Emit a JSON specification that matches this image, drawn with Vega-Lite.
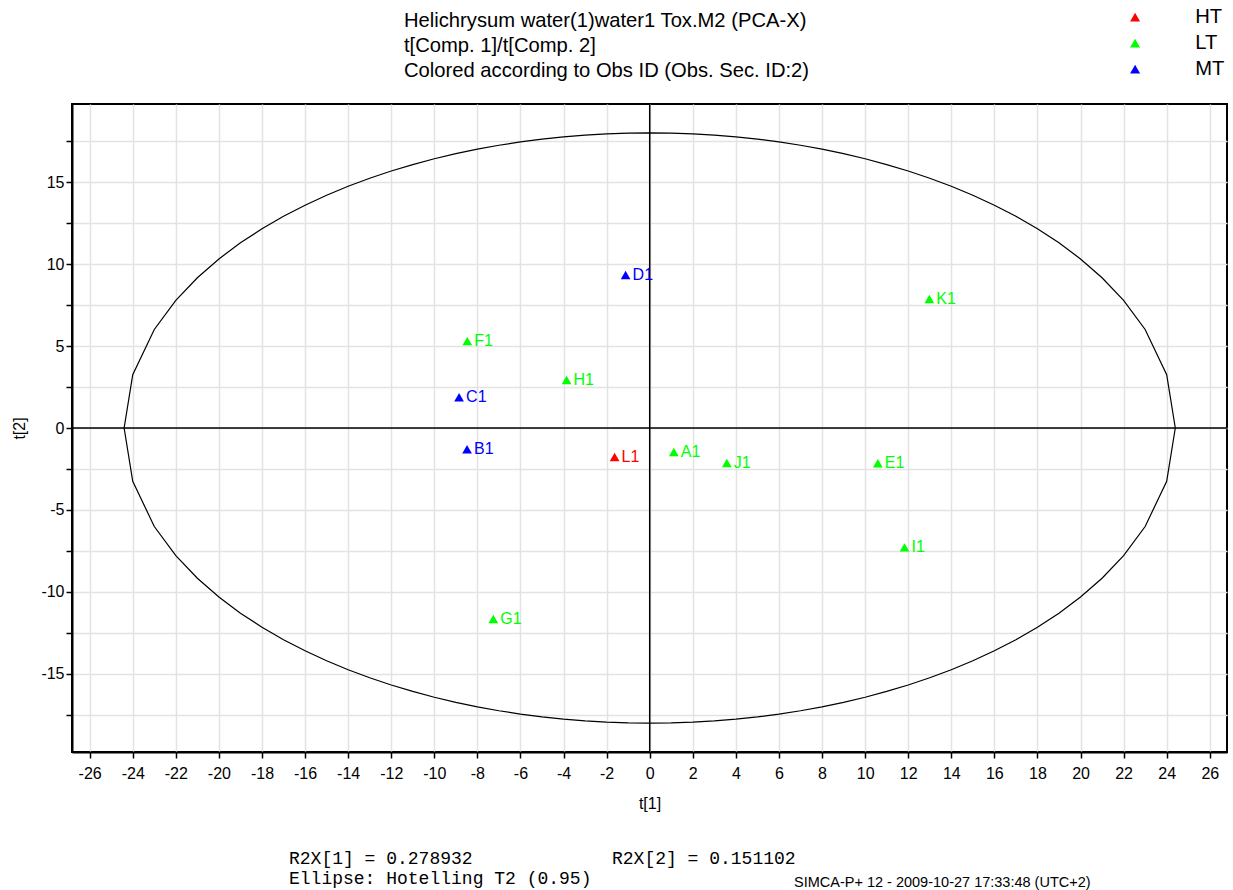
{
  "$schema": "https://vega.github.io/schema/vega-lite/v6.json",
  "width": 1155,
  "height": 648,
  "autosize": {"type": "none"},
  "padding": {"left": 72, "top": 104, "right": 6, "bottom": 138},
  "background": "white",
  "config": {"view": {"stroke": "black", "strokeWidth": 2}, "font": "Liberation Sans"},
  "title": {
    "text": ["Helichrysum water(1)water1 Tox.M2 (PCA-X)", "t[Comp. 1]/t[Comp. 2]", "Colored according to Obs ID (Obs. Sec. ID:2)"],
    "anchor": "start",
    "frame": "group",
    "dx": 332,
    "fontSize": 20.2,
    "fontWeight": "normal",
    "font": "Liberation Sans",
    "lineHeight": 25,
    "offset": -74,
    "color": "black"
  },
  "datasets": {
    "scores": [
      {"id": "D1", "grp": "MT", "x": -1.12, "y": 9.33},
      {"id": "K1", "grp": "LT", "x": 12.98, "y": 7.87},
      {"id": "F1", "grp": "LT", "x": -8.47, "y": 5.3},
      {"id": "H1", "grp": "LT", "x": -3.86, "y": 2.93},
      {"id": "C1", "grp": "MT", "x": -8.85, "y": 1.87},
      {"id": "B1", "grp": "MT", "x": -8.48, "y": -1.3},
      {"id": "L1", "grp": "HT", "x": -1.63, "y": -1.77},
      {"id": "A1", "grp": "LT", "x": 1.12, "y": -1.46},
      {"id": "J1", "grp": "LT", "x": 3.58, "y": -2.13},
      {"id": "E1", "grp": "LT", "x": 10.59, "y": -2.15},
      {"id": "I1", "grp": "LT", "x": 11.83, "y": -7.28},
      {"id": "G1", "grp": "LT", "x": -7.26, "y": -11.65}
    ],
    "ellipse": [
      {"i": 0, "x": 24.4, "y": 0},
      {"i": 1, "x": 24, "y": 3.246},
      {"i": 2, "x": 23, "y": 6.009},
      {"i": 3, "x": 22, "y": 7.785},
      {"i": 4, "x": 21, "y": 9.165},
      {"i": 5, "x": 20, "y": 10.311},
      {"i": 6, "x": 19, "y": 11.293},
      {"i": 7, "x": 18, "y": 12.152},
      {"i": 8, "x": 17, "y": 12.912},
      {"i": 9, "x": 16, "y": 13.59},
      {"i": 10, "x": 15, "y": 14.197},
      {"i": 11, "x": 14, "y": 14.742},
      {"i": 12, "x": 13, "y": 15.232},
      {"i": 13, "x": 12, "y": 15.673},
      {"i": 14, "x": 11, "y": 16.067},
      {"i": 15, "x": 10, "y": 16.419},
      {"i": 16, "x": 9, "y": 16.731},
      {"i": 17, "x": 8, "y": 17.005},
      {"i": 18, "x": 7, "y": 17.243},
      {"i": 19, "x": 6, "y": 17.447},
      {"i": 20, "x": 5, "y": 17.618},
      {"i": 21, "x": 4, "y": 17.756},
      {"i": 22, "x": 3, "y": 17.863},
      {"i": 23, "x": 2, "y": 17.939},
      {"i": 24, "x": 1, "y": 17.985},
      {"i": 25, "x": 0, "y": 18},
      {"i": 26, "x": -1, "y": 17.985},
      {"i": 27, "x": -2, "y": 17.939},
      {"i": 28, "x": -3, "y": 17.863},
      {"i": 29, "x": -4, "y": 17.756},
      {"i": 30, "x": -5, "y": 17.618},
      {"i": 31, "x": -6, "y": 17.447},
      {"i": 32, "x": -7, "y": 17.243},
      {"i": 33, "x": -8, "y": 17.005},
      {"i": 34, "x": -9, "y": 16.731},
      {"i": 35, "x": -10, "y": 16.419},
      {"i": 36, "x": -11, "y": 16.067},
      {"i": 37, "x": -12, "y": 15.673},
      {"i": 38, "x": -13, "y": 15.232},
      {"i": 39, "x": -14, "y": 14.742},
      {"i": 40, "x": -15, "y": 14.197},
      {"i": 41, "x": -16, "y": 13.59},
      {"i": 42, "x": -17, "y": 12.912},
      {"i": 43, "x": -18, "y": 12.152},
      {"i": 44, "x": -19, "y": 11.293},
      {"i": 45, "x": -20, "y": 10.311},
      {"i": 46, "x": -21, "y": 9.165},
      {"i": 47, "x": -22, "y": 7.785},
      {"i": 48, "x": -23, "y": 6.009},
      {"i": 49, "x": -24, "y": 3.246},
      {"i": 50, "x": -24.4, "y": 0},
      {"i": 51, "x": -24, "y": -3.246},
      {"i": 52, "x": -23, "y": -6.009},
      {"i": 53, "x": -22, "y": -7.785},
      {"i": 54, "x": -21, "y": -9.165},
      {"i": 55, "x": -20, "y": -10.311},
      {"i": 56, "x": -19, "y": -11.293},
      {"i": 57, "x": -18, "y": -12.152},
      {"i": 58, "x": -17, "y": -12.912},
      {"i": 59, "x": -16, "y": -13.59},
      {"i": 60, "x": -15, "y": -14.197},
      {"i": 61, "x": -14, "y": -14.742},
      {"i": 62, "x": -13, "y": -15.232},
      {"i": 63, "x": -12, "y": -15.673},
      {"i": 64, "x": -11, "y": -16.067},
      {"i": 65, "x": -10, "y": -16.419},
      {"i": 66, "x": -9, "y": -16.731},
      {"i": 67, "x": -8, "y": -17.005},
      {"i": 68, "x": -7, "y": -17.243},
      {"i": 69, "x": -6, "y": -17.447},
      {"i": 70, "x": -5, "y": -17.618},
      {"i": 71, "x": -4, "y": -17.756},
      {"i": 72, "x": -3, "y": -17.863},
      {"i": 73, "x": -2, "y": -17.939},
      {"i": 74, "x": -1, "y": -17.985},
      {"i": 75, "x": 0, "y": -18},
      {"i": 76, "x": 1, "y": -17.985},
      {"i": 77, "x": 2, "y": -17.939},
      {"i": 78, "x": 3, "y": -17.863},
      {"i": 79, "x": 4, "y": -17.756},
      {"i": 80, "x": 5, "y": -17.618},
      {"i": 81, "x": 6, "y": -17.447},
      {"i": 82, "x": 7, "y": -17.243},
      {"i": 83, "x": 8, "y": -17.005},
      {"i": 84, "x": 9, "y": -16.731},
      {"i": 85, "x": 10, "y": -16.419},
      {"i": 86, "x": 11, "y": -16.067},
      {"i": 87, "x": 12, "y": -15.673},
      {"i": 88, "x": 13, "y": -15.232},
      {"i": 89, "x": 14, "y": -14.742},
      {"i": 90, "x": 15, "y": -14.197},
      {"i": 91, "x": 16, "y": -13.59},
      {"i": 92, "x": 17, "y": -12.912},
      {"i": 93, "x": 18, "y": -12.152},
      {"i": 94, "x": 19, "y": -11.293},
      {"i": 95, "x": 20, "y": -10.311},
      {"i": 96, "x": 21, "y": -9.165},
      {"i": 97, "x": 22, "y": -7.785},
      {"i": 98, "x": 23, "y": -6.009},
      {"i": 99, "x": 24, "y": -3.246},
      {"i": 100, "x": 24.4, "y": 0}
    ]
  },
  "layer": [
    {
      "data": {"name": "ellipse"},
      "mark": {"type": "line", "color": "black", "strokeWidth": 1.2},
      "encoding": {
        "x": {
          "field": "x", "type": "quantitative",
          "scale": {"domain": [-26.82, 26.8], "nice": false, "zero": false},
          "axis": {
            "title": "t[1]",
            "values": [-26,-25,-24,-23,-22,-21,-20,-19,-18,-17,-16,-15,-14,-13,-12,-11,-10,-9,-8,-7,-6,-5,-4,-3,-2,-1,0,1,2,3,4,5,6,7,8,9,10,11,12,13,14,15,16,17,18,19,20,21,22,23,24,25,26],
            "labelExpr": "datum.value % 2 === 0 ? toString(datum.value) : ''",
            "grid": true, "gridColor": "#e3e3e3", "gridWidth": 1.5,
            "domainColor": "black", "domainWidth": 2,
            "tickColor": "black", "tickWidth": 1.5, "tickSize": 6,
            "labelFontSize": 16, "labelColor": "black", "labelPadding": 7,
            "labelFlush": false, "labelOverlap": false,
            "titleFontSize": 16, "titleFontWeight": "normal", "titleColor": "black", "titlePadding": 14
          }
        },
        "y": {
          "field": "y", "type": "quantitative",
          "scale": {"domain": [-19.76, 19.76], "nice": false, "zero": false},
          "axis": {
            "title": "t[2]",
            "values": [-17.5,-15,-12.5,-10,-7.5,-5,-2.5,0,2.5,5,7.5,10,12.5,15,17.5],
            "labelExpr": "datum.value % 5 === 0 ? toString(datum.value) : ''",
            "grid": true, "gridColor": "#e3e3e3", "gridWidth": 1.5,
            "domainColor": "black", "domainWidth": 2,
            "tickColor": "black", "tickWidth": 1.5, "tickSize": 6,
            "labelFontSize": 16, "labelColor": "black", "labelPadding": 2,
            "labelFlush": false, "labelOverlap": false,
            "titleFontSize": 16, "titleFontWeight": "normal", "titleColor": "black", "titlePadding": 13
          }
        },
        "order": {"field": "i", "type": "quantitative"}
      }
    },
    {
      "data": {"values": [{}]},
      "mark": {"type": "rule", "color": "black", "strokeWidth": 1.5},
      "encoding": {"x": {"datum": 0, "type": "quantitative"}}
    },
    {
      "data": {"values": [{}]},
      "mark": {"type": "rule", "color": "black", "strokeWidth": 1.5},
      "encoding": {"y": {"datum": 0, "type": "quantitative"}}
    },
    {
      "data": {"name": "scores"},
      "mark": {"type": "point", "shape": "triangle-up", "filled": true, "size": 95, "opacity": 1},
      "encoding": {
        "x": {"field": "x", "type": "quantitative"},
        "y": {"field": "y", "type": "quantitative"},
        "color": {
          "field": "grp", "type": "nominal",
          "scale": {"domain": ["HT", "LT", "MT"], "range": ["#ff0000", "#00ff00", "#0000ff"]},
          "legend": {
            "title": null, "orient": "none", "legendX": 1053, "legendY": -97,
            "symbolType": "triangle-up", "symbolSize": 100, "symbolStrokeWidth": 0,
            "labelFontSize": 20.2, "labelOffset": 50, "rowPadding": 5, "padding": 0,
            "labelColor": "black", "labelFont": "Liberation Sans"
          }
        }
      }
    },
    {
      "data": {"name": "scores"},
      "mark": {"type": "text", "align": "left", "baseline": "middle", "dx": 7, "fontSize": 16},
      "encoding": {
        "x": {"field": "x", "type": "quantitative"},
        "y": {"field": "y", "type": "quantitative"},
        "text": {"field": "id"},
        "color": {"field": "grp", "type": "nominal", "legend": null}
      }
    },
    {
      "data": {"values": [{}]},
      "mark": {"type": "text", "text": "R2X[1] = 0.278932", "font": "Liberation Mono", "fontSize": 18, "align": "left", "baseline": "alphabetic", "color": "black"},
      "encoding": {"x": {"value": 217}, "y": {"value": 760}}
    },
    {
      "data": {"values": [{}]},
      "mark": {"type": "text", "text": "R2X[2] = 0.151102", "font": "Liberation Mono", "fontSize": 18, "align": "left", "baseline": "alphabetic", "color": "black"},
      "encoding": {"x": {"value": 540}, "y": {"value": 760}}
    },
    {
      "data": {"values": [{}]},
      "mark": {"type": "text", "text": "Ellipse: Hotelling T2 (0.95)", "font": "Liberation Mono", "fontSize": 18, "align": "left", "baseline": "alphabetic", "color": "black"},
      "encoding": {"x": {"value": 217}, "y": {"value": 780}}
    },
    {
      "data": {"values": [{}]},
      "mark": {"type": "text", "text": "SIMCA-P+ 12 - 2009-10-27 17:33:48 (UTC+2)", "font": "Liberation Sans", "fontSize": 14.5, "align": "left", "baseline": "alphabetic", "color": "black"},
      "encoding": {"x": {"value": 722}, "y": {"value": 783}}
    }
  ]
}
